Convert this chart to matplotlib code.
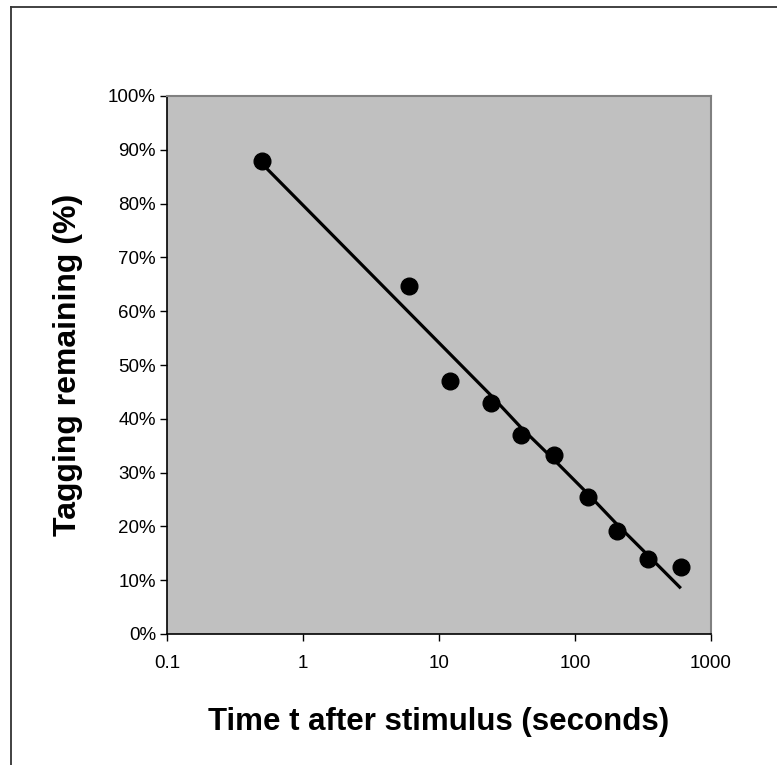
import matplotlib.pyplot as plt
from matplotlib.ticker import FixedLocator, NullLocator, FixedFormatter
from matplotlib.lines import Line2D

# data
time_s = [0.5, 6, 12, 24, 40, 70, 125, 205, 345, 600]
remaining = [87.9, 64.6, 47.0, 43.0, 36.9, 33.2, 25.4, 19.1, 13.9, 12.4]
fit_remaining = [87.4, 59.8, 52.1, 44.4, 38.4, 32.4, 26.0, 20.3, 14.6, 8.5]

x_ticks = [0.1, 1, 10, 100, 1000]
x_tick_labels = ['0.1', '1', '10', '100', '1000']
y_ticks = [0, 10, 20, 30, 40, 50, 60, 70, 80, 90, 100]
y_tick_labels = [f'{v}%' for v in y_ticks]

plt.rcParams['font.family'] = ['Liberation Sans', 'DejaVu Sans']

fig = plt.figure(figsize=(7.77, 7.65), dpi=100)
ax = fig.add_axes([167 / 777, 1 - 634 / 765, (711 - 167) / 777, (634 - 96) / 765])
ax.set_facecolor('#C0C0C0')

ax.plot(time_s, fit_remaining, color='black', linewidth=2.3, solid_capstyle='butt', zorder=2)
ax.plot(time_s, remaining, 'o', color='black', markersize=12, zorder=3)

ax.set_xscale('log')
ax.set_xlim(0.1, 1000)
ax.set_ylim(0, 100)
ax.xaxis.set_major_locator(FixedLocator(x_ticks))
ax.xaxis.set_major_formatter(FixedFormatter(x_tick_labels))
ax.xaxis.set_minor_locator(NullLocator())
ax.set_yticks(y_ticks)
ax.set_yticklabels(y_tick_labels)

ax.tick_params(axis='both', direction='out', length=5, width=1, labelsize=13.5, colors='black')
ax.tick_params(axis='x', pad=10)
ax.tick_params(axis='y', pad=3)

for side in ['top', 'right']:
    ax.spines[side].set_color('#808080')
    ax.spines[side].set_linewidth(1.5)
for side in ['left', 'bottom']:
    ax.spines[side].set_color('black')
    ax.spines[side].set_linewidth(1.2)

ax.set_xlabel('Time t after stimulus (seconds)', fontsize=22.5, fontweight='bold', labelpad=25)
ax.set_ylabel('Tagging remaining (%)', fontsize=23, fontweight='bold', labelpad=18)

# outer chart frame (only top and left edges visible in the crop)
fig.add_artist(Line2D([10.5 / 777, 1], [1 - 6.5 / 765, 1 - 6.5 / 765], color='#333333', linewidth=1.3))
fig.add_artist(Line2D([10.5 / 777, 10.5 / 777], [0, 1 - 6.5 / 765], color='#333333', linewidth=1.3))

fig.savefig('out.png', dpi=100, facecolor='white')
